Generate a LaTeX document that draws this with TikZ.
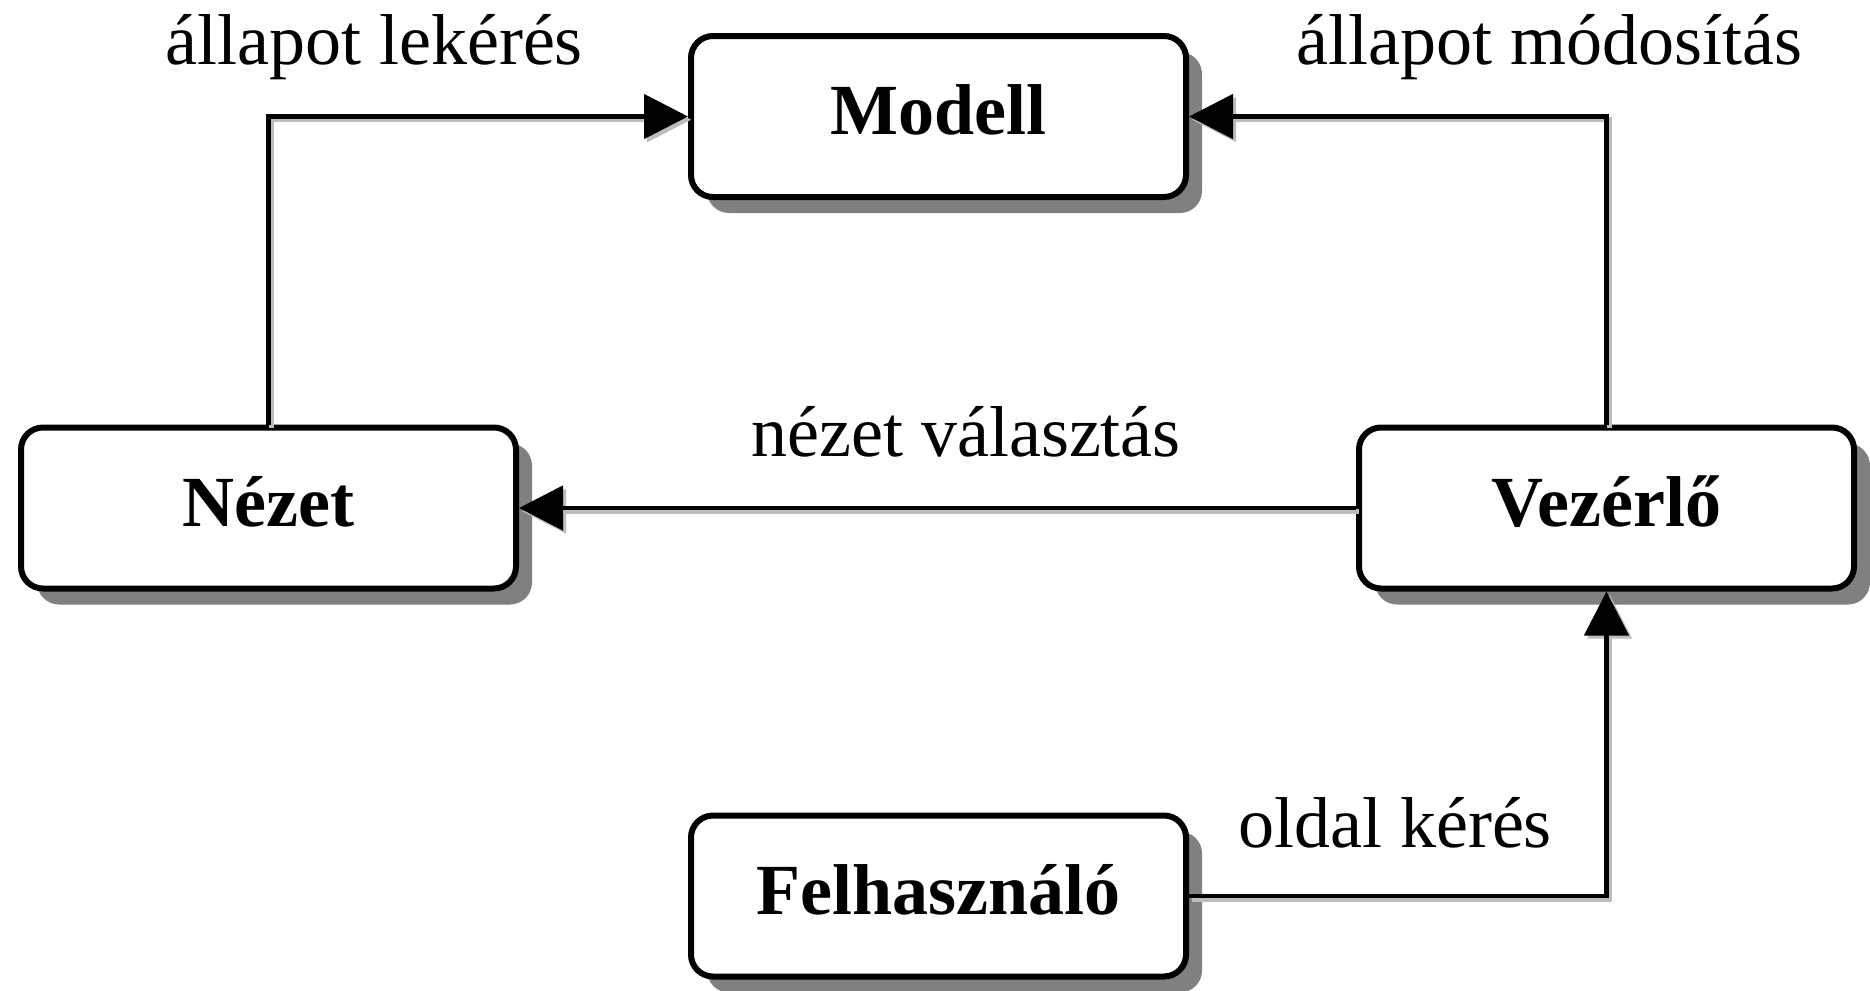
\documentclass[tikz,border=0pt]{standalone}
\usepackage{fontspec}
\setmainfont{Liberation Serif}
\usetikzlibrary{arrows.meta,shadows}
\definecolor{boxshadow}{HTML}{808080}
\definecolor{lineshadow}{HTML}{BDBDBD}
\begin{document}
\begin{tikzpicture}[x=0.5pt,y=-0.5pt,
  box/.style={draw, line width=3pt, rounded corners=11pt, fill=white,
    minimum width=247.5pt, minimum height=80.5pt, inner sep=0pt,
    font=\fontsize{36}{43}\selectfont\bfseries, text height=24pt, text depth=6pt,
    drop shadow={shadow xshift=8pt, shadow yshift=-8pt, fill=boxshadow, opacity=1}},
  link/.style={line width=2.4pt, -{Triangle[length=22pt,width=22pt]}},
  linkshadow/.style={link, draw=lineshadow, transform canvas={shift={(1.6pt,-1.6pt)}}},
  lbl/.style={anchor=base, inner sep=0pt, font=\fontsize{36}{43}\selectfont}]
\useasboundingbox (0,0) rectangle (1870,991);

% boxes
\node[box] (modell) at (938.5,116.5) {Modell};
\node[box] (nezet) at (268.5,508) {Nézet};
\node[box] (vezerlo) at (1606.5,508) {Vezérlő};
\node[box] (felh) at (938.5,896) {Felhasználó};

% connector shadows
\draw[linkshadow] (nezet.north) |- (modell.west);
\draw[linkshadow] (vezerlo.north) |- (modell.east);
\draw[linkshadow] (vezerlo.west) -- (nezet.east);
\draw[linkshadow] (felh.east) -| (vezerlo.south);

% connectors
\draw[link] (nezet.north) |- (modell.west);
\draw[link] (vezerlo.north) |- (modell.east);
\draw[link] (vezerlo.west) -- (nezet.east);
\draw[link] (felh.east) -| (vezerlo.south);

% labels
\node[lbl] (l1) at (374,64) {állapot lekérés};
\node[lbl] (l2) at (1549,64) {állapot módosítás};
\node[lbl] (l3) at (966,456) {nézet választás};
\node[lbl] (l4) at (1395,847) {oldal kérés};
\end{tikzpicture}
\end{document}
